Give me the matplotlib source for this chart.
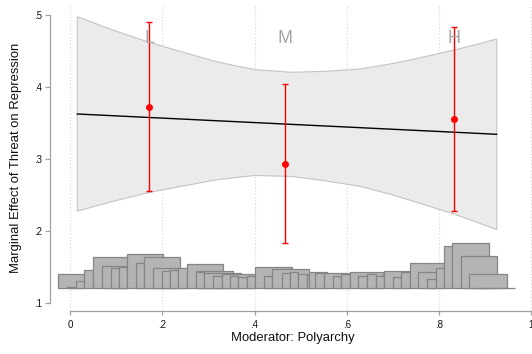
import matplotlib
matplotlib.use("Agg")
import matplotlib.pyplot as plt

plt.rcParams['font.family'] = ['Liberation Sans', 'DejaVu Sans']

# marginal effect line (linear prediction) and its confidence band
line_x = [0.0158, 0.9250]
line_y = [0.3623, 0.3341]

band_x = [0.0158, 0.0865, 0.1713, 0.2530, 0.3143, 0.3577, 0.4010, 0.4806, 0.5528,
          0.6286, 0.6937, 0.7370, 0.8331, 0.8779, 0.9250]
band_hi = [0.4976, 0.4805, 0.4620, 0.4467, 0.4356, 0.4295, 0.4240, 0.4203, 0.4217,
           0.4249, 0.4318, 0.4374, 0.4513, 0.4585, 0.4666]
band_lo = [0.2272, 0.2397, 0.2532, 0.2631, 0.2704, 0.2739, 0.2768, 0.2755, 0.2695,
           0.2617, 0.2508, 0.2424, 0.2230, 0.2127, 0.2016]

# binned estimates (low / medium / high)
bin_labels = ['L', 'M', 'H']
bin_x = [0.1713, 0.4661, 0.8331]
bin_est = [0.3725, 0.2932, 0.3554]
bin_lo = [0.2548, 0.1829, 0.2274]
bin_hi = [0.4898, 0.4036, 0.4829]

# overlaid histogram of the moderator, drawn in this order
hist_base = 0.12
hist_left = [-0.0254, -0.0059, 0.0130, 0.0310, 0.0505, 0.0687, 0.0882, 0.1062,
             0.1242, 0.1431, 0.1611, 0.1806, 0.1988, 0.2168, 0.2348, 0.2543,
             0.2725, 0.2725, 0.2905, 0.3093, 0.3289, 0.3468, 0.3648, 0.3830,
             0.4010, 0.4205, 0.4385, 0.4589, 0.4769, 0.4949, 0.5131, 0.5188,
             0.5311, 0.5506, 0.5695, 0.5875, 0.6070, 0.6250, 0.6432, 0.6633,
             0.6813, 0.6996, 0.7175, 0.7370, 0.7550, 0.7746, 0.7928, 0.8114,
             0.8288, 0.8476, 0.8656, 0.8838]
hist_right = [0.0325, 0.0130, 0.0310, 0.0505, 0.1242, 0.1242, 0.1062, 0.1242,
              0.2023, 0.1611, 0.2385, 0.2530, 0.2168, 0.2348, 0.2543, 0.3323,
              0.3527, 0.2905, 0.3700, 0.3289, 0.4010, 0.3648, 0.3830, 0.4010,
              0.4806, 0.4385, 0.5188, 0.4769, 0.4949, 0.5131, 0.5311, 0.5565,
              0.5506, 0.6070, 0.5875, 0.6070, 0.6792, 0.6432, 0.6633, 0.6813,
              0.7370, 0.7175, 0.7370, 0.8114, 0.7928, 0.7928, 0.8114, 0.8288,
              0.9083, 0.9263, 0.9467, 0.9647]
hist_top = [0.1400, 0.1213, 0.1305, 0.1453, 0.1630, 0.1513, 0.1477, 0.1500,
            0.1672, 0.1555, 0.1630, 0.1477, 0.1444, 0.1453, 0.1477, 0.1533,
            0.1440, 0.1421, 0.1407, 0.1374, 0.1400, 0.1370, 0.1352, 0.1374,
            0.1490, 0.1374, 0.1467, 0.1416, 0.1421, 0.1394, 0.1384, 0.1430,
            0.1407, 0.1416, 0.1374, 0.1394, 0.1421, 0.1374, 0.1394, 0.1374,
            0.1440, 0.1360, 0.1421, 0.1547, 0.1421, 0.1328, 0.1477, 0.1791,
            0.1825, 0.1652, 0.1394, 0.1207]

xticks = [0, 0.2, 0.4, 0.6, 0.8, 1.0]
xtick_labels = ['0', '.2', '.4', '.6', '.8', '1']
yticks = [0.1, 0.2, 0.3, 0.4, 0.5]
ytick_labels = ['.1', '.2', '.3', '.4', '.5']

fig = plt.figure(figsize=(5.32, 3.54), dpi=100)
ax = fig.add_axes([50 / 532, 42.7 / 354, 485.9 / 532, 306.3 / 354])
ax.set_xlim(-0.0434, 1.01)
ax.set_ylim(0.0879, 0.5139)

# dotted vertical grid
for xt in xticks:
    ax.axvline(xt, color='#d6d6d6', lw=0.8, ls=(0, (1, 2)), zorder=0)

# confidence band
poly_x = band_x + band_x[::-1]
poly_y = band_hi + band_lo[::-1]
ax.fill(poly_x, poly_y, facecolor='#ebebeb', edgecolor='#c4c4c4', lw=0.8, zorder=1)
ax.plot(line_x, line_y, color='black', lw=1.0, zorder=2)

# histogram
widths = [r - l for l, r in zip(hist_left, hist_right)]
heights = [t - hist_base for t in hist_top]
ax.bar(hist_left, heights, width=widths, bottom=hist_base, align='edge',
       facecolor='#b4b4b4', edgecolor='#858585', lw=0.9, zorder=2)

# binned estimates with CIs
yerr = [[e - lo for e, lo in zip(bin_est, bin_lo)],
        [hi - e for e, hi in zip(bin_est, bin_hi)]]
ax.errorbar(bin_x, bin_est, yerr=yerr, fmt='o', color='red', ms=4,
            elinewidth=1.0, capsize=2, capthick=1.0, zorder=4)

for lab, bx in zip(bin_labels, bin_x):
    ax.text(bx, 0.467, lab, color='#a6a6a6', fontsize=13, ha='center',
            va='center', zorder=5)

# axes styling (Stata-like)
for side in ['top', 'right']:
    ax.spines[side].set_visible(False)
ax.spines['left'].set_bounds(0.1, 0.5)
ax.spines['bottom'].set_bounds(0, 1)
for side in ['left', 'bottom']:
    ax.spines[side].set_color('#a0a0a0')
    ax.spines[side].set_linewidth(0.9)

ax.set_xticks(xticks)
ax.set_xticklabels(xtick_labels)
ax.set_yticks(yticks)
ax.set_yticklabels(ytick_labels)
ax.tick_params(axis='both', colors='#a0a0a0', labelcolor='#111111',
               labelsize=7, width=0.9)
ax.tick_params(axis='y', length=3.6, pad=2)
ax.tick_params(axis='x', length=3, pad=3)

ax.set_xlabel('Moderator: Polyarchy', fontsize=9.4, color='#111111')
ax.set_ylabel('Marginal Effect of Threat on Repression', fontsize=9.4, color='#111111')
ax.xaxis.set_label_coords(0.5, -0.068)
ax.yaxis.set_label_coords(-0.057, 0.5)

fig.savefig('out.png', dpi=100)
